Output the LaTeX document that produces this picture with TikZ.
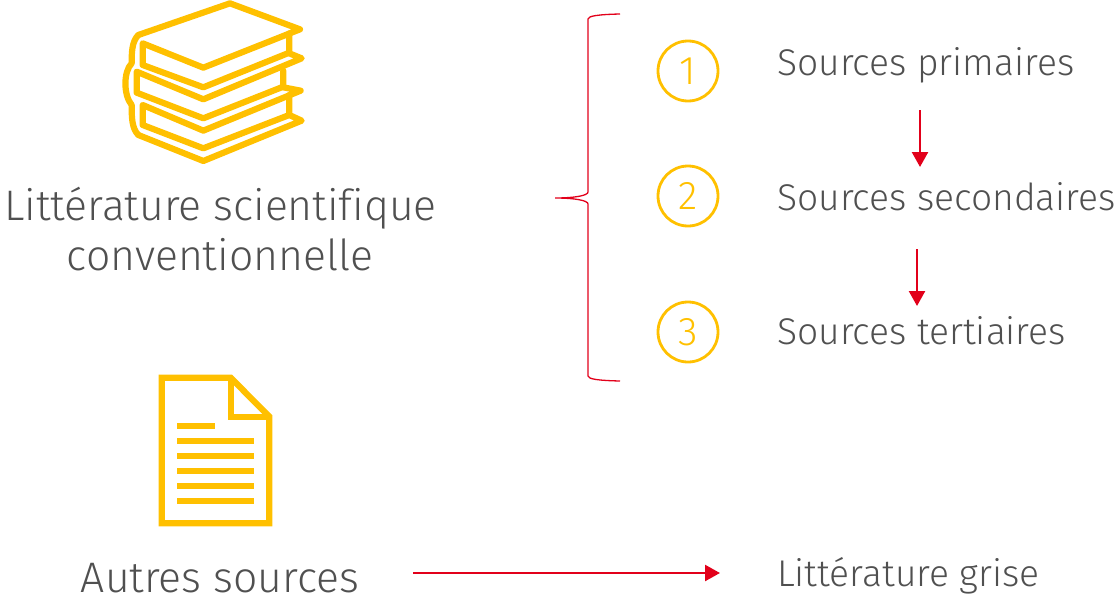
\documentclass[tikz,border=0pt]{standalone}
\usepackage{fontspec}
\setmainfont[Ligatures=NoCommon,Contextuals=NoAlternate]{Fira Sans Light}
\usetikzlibrary{arrows.meta}
\definecolor{amber}{HTML}{FFC000}
\definecolor{redd}{HTML}{E2001A}
\definecolor{txt}{HTML}{505050}
\tikzset{
 icon/.style={draw=amber,line width=6.2pt,line join=round,line cap=round},
 big/.style={text=txt,font=\fontsize{42.7}{50}\selectfont,align=center,inner sep=0pt,anchor=base},
 lab/.style={text=txt,font=\fontsize{37.2}{40}\selectfont,inner sep=0pt,anchor=base west},
 num/.style={circle,draw=amber,line width=2.8pt,minimum size=60pt,inner sep=0pt,text=amber,font=\fontsize{40}{44}\selectfont},
 link/.style={draw=redd,line width=2.4pt,-{Triangle[length=15pt,width=16pt]}}
}
\begin{document}
\begin{tikzpicture}[x=1pt,y=-1pt]
\useasboundingbox (0,0) rectangle (1116,597);
\begin{scope}[shift={(110,0)},x=0.3333pt,y=-0.3333pt]
\draw[icon] (85,105) -- (360,10) -- (570,88) -- (280,203) -- (98,130) -- (98,195) -- (280,262) -- (538,158);
\draw[icon] (538,100) -- (538,160) -- (575,175) -- (280,298) -- (80,215) -- (80,278) -- (280,355) -- (520,260);
\draw[icon] (520,212) -- (520,262) -- (572,272) -- (280,392) -- (98,315) -- (98,375) -- (280,445) -- (538,345);
\draw[icon] (538,285) -- (538,345) -- (575,362) -- (280,483) -- (85,405);
\draw[icon] (85,105) .. controls (65,125) and (65,160) .. (65,190) .. controls (40,215) and (40,285) .. (65,315) .. controls (65,350) and (65,385) .. (85,405);
\end{scope}
\begin{scope}[shift={(140,365)},x=0.3333pt,y=-0.3333pt]
\draw[icon,line cap=butt,line join=miter] (65,38) -- (272,38) -- (388,155) -- (388,475) -- (65,475) -- cycle;
\draw[icon,line cap=butt,line join=miter] (272,38) -- (272,155) -- (388,155);
\foreach \yy/\xx in {184/224,229/342,273/342,318/342,363/342,407/342}
  \draw[icon,line cap=butt] (112,\yy) -- (\xx,\yy);
\end{scope}
\node[big] (t1) at (220.5,220) {Littérature scientifique};
\node[big] (t2) at (220,270) {conventionnelle};
\node[big] (t3) at (220,592) {Autres sources};
\draw[redd,line width=1.3pt] (620,14) .. controls (598,14.5) and (588,16) .. (588,19) -- (588,192) .. controls (588,195.5) and (575,198) .. (555,198) .. controls (575,198) and (588,200.5) .. (588,204) -- (588,376) .. controls (588,379) and (598,380.5) .. (620,381);
\node[num] (n1) at (688,71) {1};
\node[num] (n2) at (688,196) {2};
\node[num] (n3) at (688,332) {3};
\node[lab] (s1) at (777,75) {Sources primaires};
\node[lab] (s2) at (777,210) {Sources secondaires};
\node[lab] (s3) at (777,344) {Sources tertiaires};
\node[lab] (s4) at (777,586) {Littérature grise};
\coordinate (a1) at (920,110); \coordinate (a2) at (920,167);
\coordinate (b1) at (917,249); \coordinate (b2) at (917,306);
\coordinate (c1) at (413,573); \coordinate (c2) at (720,573);
\draw[link] (a1) -- (a2);
\draw[link] (b1) -- (b2);
\draw[link] (c1) -- (c2);
\end{tikzpicture}
\end{document}
